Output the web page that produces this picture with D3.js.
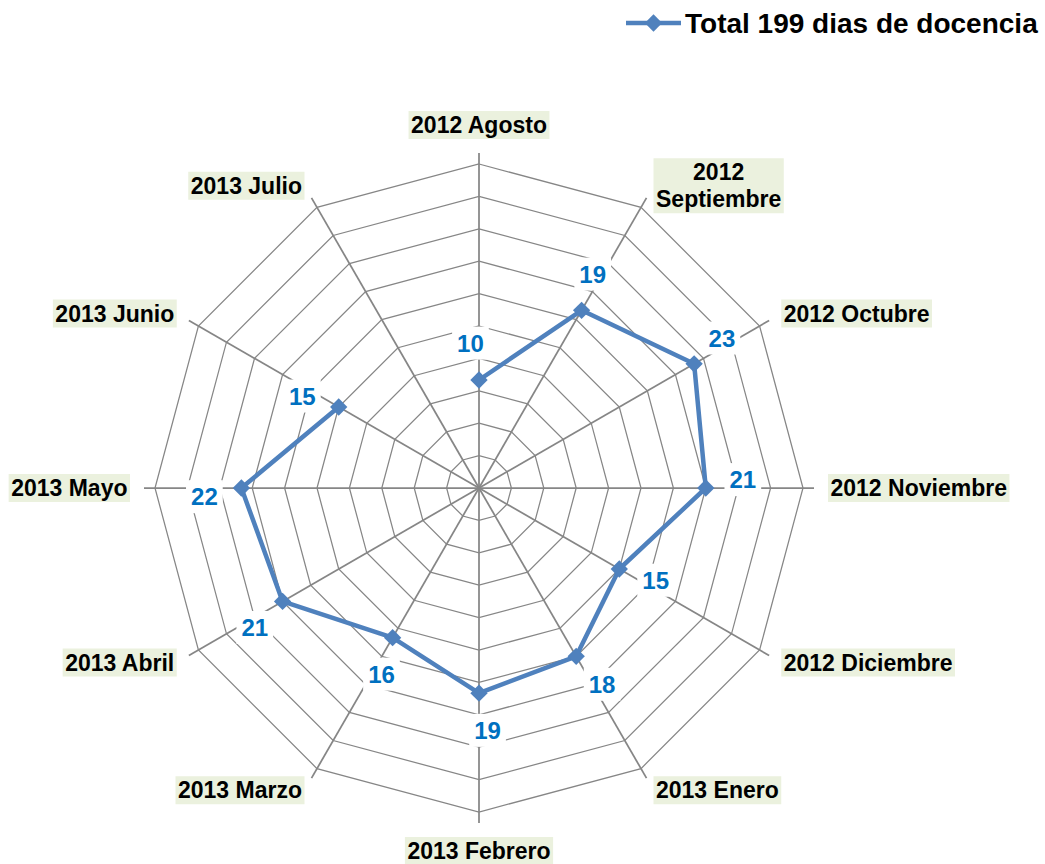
<!DOCTYPE html>
<meta charset="utf-8">
<style>
  body { margin: 0; background: #fff; }
  .axis-line { stroke: #868686; stroke-width: 1.75; }
  .ring { fill: none; stroke: #868686; stroke-width: 1.25; }
  .cat-box { fill: #EBF1DE; }
  .cat-label {
    font-family: "Liberation Sans", Arial, sans-serif;
    font-weight: bold;
    font-size: 23px;
    fill: #000;
    text-anchor: middle;
  }
  .series { fill: none; stroke: #4F81BD; stroke-width: 4.5; stroke-linejoin: round; }
  .marker { fill: #4F81BD; }
  .value-box { fill: #fff; }
  .value-label {
    font-family: "Liberation Sans", Arial, sans-serif;
    font-weight: bold;
    font-size: 24px;
    fill: #0070C0;
    text-anchor: middle;
  }
  .legend-text {
    font-family: "Liberation Sans", Arial, sans-serif;
    font-weight: bold;
    font-size: 28px;
    fill: #000;
  }
</style>
<body>
<div id="vis"></div>
<script src="https://cdn.jsdelivr.net/npm/d3@7"></script>
<script>

// months of the school year, clockwise from the top ('\n' = wrapped label)
const months = ['2012 Agosto', '2012\nSeptiembre', '2012 Octubre', '2012 Noviembre',
  '2012 Diciembre', '2013 Enero', '2013 Febrero', '2013 Marzo', '2013 Abril',
  '2013 Mayo', '2013 Junio', '2013 Julio'];
// teaching days per month (no value for Julio)
const diasDocencia = [10, 19, 23, 21, 15, 18, 19, 16, 21, 22, 15, null];
const ringTicks = [3, 6, 9, 12, 15, 18, 21, 24, 27, 30];
const seriesName = 'Total 199 dias de docencia';

const width = 1045, height = 864;
const cx = 479, cy = 488;
const outerR = 324;

const rScale = d3.scaleLinear().domain([0, 30]).range([0, outerR]);
const angle = i => i * 2 * Math.PI / months.length;
const px = (i, r) => cx + r * Math.sin(angle(i));
const py = (i, r) => cy - r * Math.cos(angle(i));

const svg = d3.select('#vis').append('svg')
    .attr('width', width)
    .attr('height', height);

const gridG = svg.append('g').attr('class', 'grid');
const chartG = svg.append('g').attr('class', 'chart');
const annotG = svg.append('g').attr('class', 'annot');

// rings
gridG.selectAll('.ring')
  .data(ringTicks)
  .enter().append('polygon')
  .attr('class', 'ring')
  .attr('points', t => months.map((m, i) => [px(i, rScale(t)), py(i, rScale(t))].join(',')).join(' '));

// spokes
gridG.selectAll('.axis-line')
  .data(months)
  .enter().append('line')
  .attr('class', 'axis-line')
  .attr('x1', cx).attr('y1', cy)
  .attr('x2', (d, i) => px(i, outerR + 11))
  .attr('y2', (d, i) => py(i, outerR + 11));

// category labels with shaded boxes
const labR = outerR + 25;
months.forEach((m, i) => {
  const g = gridG.append('g');
  const box = g.append('rect').attr('class', 'cat-box');
  const text = g.append('text').attr('class', 'cat-label');
  m.split('\n').forEach((part, k) => {
    text.append('tspan').attr('x', 0).attr('dy', k ? 27 : 0).text(part);
  });
  const bb = text.node().getBBox();
  const w = bb.width + 5, h = bb.height + 2;
  const s = Math.sin(angle(i)), c = Math.cos(angle(i));
  const ax = px(i, labR), ay = py(i, labR);
  let bx, by;
  if (Math.abs(s) < 1e-6) {
    bx = ax - w / 2;
    by = c > 0 ? ay - h : ay;
  } else {
    bx = s > 0 ? ax : ax - w;
    by = ay - h / 2;
  }
  box.attr('x', bx).attr('y', by).attr('width', w).attr('height', h);
  text.attr('transform', 'translate(' + [bx + w / 2 - (bb.x + bb.width / 2), by + h / 2 - (bb.y + bb.height / 2)] + ')');
});

// series line
const points = diasDocencia.map((v, i) => ({i: i, v: v}));
const line = d3.line()
  .defined(d => d.v != null)
  .x(d => px(d.i, rScale(d.v)))
  .y(d => py(d.i, rScale(d.v)));

chartG.append('path')
  .attr('class', 'series')
  .attr('d', line(points));

const diamond = d3.symbol(d3.symbolSquare, 150);
chartG.selectAll('.marker')
  .data(points.filter(d => d.v != null))
  .enter().append('path')
  .attr('class', 'marker')
  .attr('d', diamond)
  .attr('transform', d => 'translate(' + [px(d.i, rScale(d.v)), py(d.i, rScale(d.v))] + ') rotate(45)');

// value labels
const labOff = 38, labRot = -13 * Math.PI / 180;
points.filter(d => d.v != null).forEach(d => {
  const a = angle(d.i) + labRot;
  const x = px(d.i, rScale(d.v)) + labOff * Math.sin(a);
  const y = py(d.i, rScale(d.v)) - labOff * Math.cos(a);
  const g = annotG.append('g').attr('transform', 'translate(' + [x, y] + ')');
  const box = g.append('rect').attr('class', 'value-box');
  const text = g.append('text')
    .attr('class', 'value-label')
    .attr('dy', '0.36em')
    .text(d.v);
  const bb = text.node().getBBox();
  box.attr('x', bb.x - 5).attr('y', bb.y - 3)
    .attr('width', bb.width + 10).attr('height', bb.height + 6);
});

// legend
const legG = svg.append('g').attr('class', 'legend').attr('transform', 'translate(626,23)');
legG.append('line')
  .attr('x1', 0).attr('x2', 55)
  .attr('y1', 0).attr('y2', 0)
  .style('stroke', '#4F81BD')
  .style('stroke-width', 4.5);
legG.append('path')
  .attr('class', 'marker')
  .attr('d', diamond)
  .attr('transform', 'translate(27.5,0) rotate(45)');
legG.append('text')
  .attr('class', 'legend-text')
  .attr('x', 59)
  .attr('y', 10)
  .text(seriesName);

</script>
</body>
